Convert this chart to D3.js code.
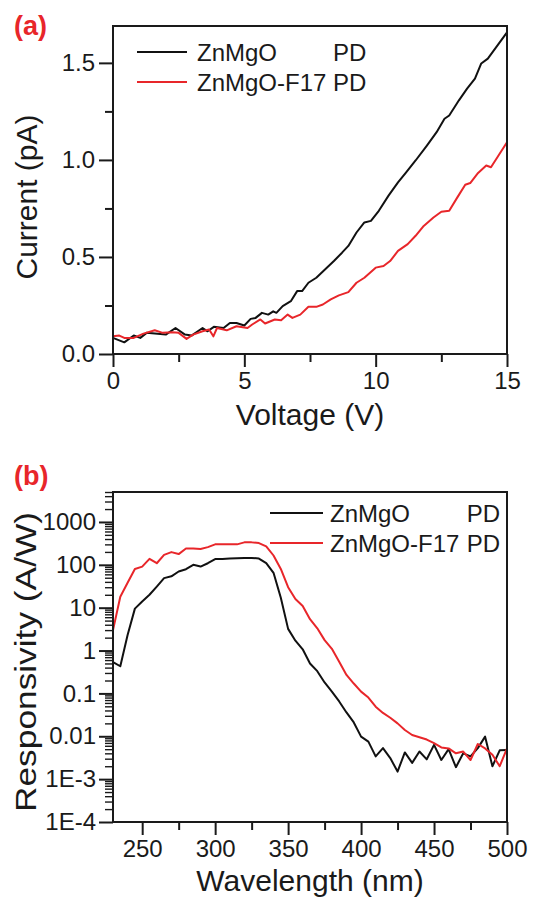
<!DOCTYPE html>
<html><head><meta charset="utf-8">
<script src="https://cdn.jsdelivr.net/npm/d3@7"></script>
<style>
body{margin:0;background:#fff}
svg{display:block}
text{font-family:"Liberation Sans",Arial,Helvetica,sans-serif;fill:#1a1a1a}
</style>
</head><body><svg id="c" width="542" height="899"></svg>
<script>
// ---------- Panel (a) data ----------
const voltageZnMgO = [0,0.43,0.79,1.04,1.28,2.01,2.38,2.74,2.99,3.41,3.6,3.84,4.21,4.45,4.7,5.0,5.24,5.43,5.67,5.91,6.1,6.22,6.46,6.77,7.01,7.2,7.44,7.74,8.11,8.41,8.72,8.96,9.27,9.57,9.82,10.12,10.49,10.85,11.16,11.52,11.95,12.32,12.62,12.8,13.17,13.48,13.78,14.02,14.27,15];
const currentZnMgO = [0.083,0.06,0.095,0.083,0.109,0.10,0.134,0.10,0.095,0.134,0.117,0.14,0.134,0.16,0.16,0.147,0.181,0.186,0.212,0.203,0.22,0.212,0.247,0.272,0.324,0.324,0.367,0.393,0.44,0.479,0.522,0.557,0.626,0.678,0.686,0.738,0.816,0.884,0.936,0.997,1.074,1.143,1.212,1.229,1.307,1.367,1.419,1.497,1.522,1.657];
const voltageF17 = [0,0.24,0.43,0.79,1.16,1.59,1.89,2.26,2.5,2.8,3.05,3.41,3.66,3.82,3.96,4.33,4.7,5.12,5.3,5.61,5.79,6.16,6.4,6.65,6.83,7.13,7.44,7.74,7.99,8.29,8.6,8.96,9.27,9.57,10.0,10.3,10.55,10.85,11.22,11.52,11.83,12.2,12.5,12.8,13.11,13.41,13.6,13.9,14.21,14.39,15];
const currentF17 = [0.091,0.095,0.083,0.083,0.105,0.122,0.109,0.112,0.109,0.078,0.10,0.117,0.126,0.091,0.134,0.122,0.143,0.134,0.152,0.178,0.157,0.178,0.174,0.203,0.186,0.203,0.243,0.243,0.255,0.281,0.302,0.319,0.367,0.393,0.445,0.453,0.479,0.531,0.566,0.609,0.66,0.703,0.733,0.738,0.807,0.872,0.881,0.933,0.971,0.962,1.091];
const voltageTicks = [0,5,10,15];
const voltageMinorTicks = [2.5,7.5,12.5];
const currentTicks = [0,0.5,1.0,1.5];
const currentMinorTicks = [0.25,0.75,1.25];

// ---------- Panel (b) data ----------
const wavelength = [230,235,240,245,250,255,260,265,270,275,280,285,290,295,300,305,310,315,320,325,330,335,340,345,350,355,360,365,370,375,380,385,390,395,400,405,410,415,420,425,430,435,440,445,450,455,460,465,470,475,480,485,490,495,500];
const respZnMgO = [0.54,0.43,2.3,9.5,14,20,31,49,54,70,79,100,91,109,136,136,140,142,144,145,140,110,65,17,3.2,1.7,1.07,0.5,0.33,0.18,0.11,0.065,0.036,0.021,0.0098,0.0075,0.0034,0.0053,0.0031,0.0015,0.0042,0.0024,0.0044,0.0029,0.0063,0.0028,0.0050,0.0019,0.0040,0.0034,0.0053,0.0098,0.0020,0.0047,0.0048];
const respF17 = [3.0,18,38,80,91,138,109,171,198,178,240,240,233,259,300,300,302,300,334,334,322,270,165,80,30,16,11,5.4,3.3,1.75,1.1,0.55,0.27,0.17,0.11,0.08,0.049,0.035,0.027,0.020,0.014,0.0107,0.0095,0.0084,0.0069,0.0055,0.0052,0.0040,0.0044,0.0028,0.0066,0.0052,0.0037,0.0020,0.0052];
const wavelengthTicks = [250,300,350,400,450,500];
const wavelengthMinorTicks = [275,325,375,425,475];
const respTicks = [1e-4,1e-3,0.01,0.1,1,10,100,1000];
const respTickLabels = ["1E-4","1E-3","0.01","0.1","1","10","100","1000"];

const seriesNames = ["ZnMgO", "ZnMgO-F17"];
const seriesColors = ["#111111", "#e8262a"];

const svg = d3.select("#c");
const INK = "#1a1a1a";

function styleAxis(g, fontSize) {
  g.select(".domain").remove();
  g.selectAll(".tick line").attr("stroke", INK).attr("stroke-width", 2);
  g.selectAll(".tick text").attr("font-size", fontSize).attr("fill", INK)
    .style("font-family", '"Liberation Sans",Arial,sans-serif');
}

function frame(L, R, T, B) {
  svg.append("rect").attr("x", L).attr("y", T).attr("width", R - L).attr("height", B - T)
    .attr("fill", "none").attr("stroke", INK).attr("stroke-width", 2);
}

function legend(x0, x1, xt, yRows, xPD, anchorPD) {
  seriesNames.forEach((n, i) => {
    const y = yRows[i];
    svg.append("line").attr("x1", x0).attr("x2", x1).attr("y1", y).attr("y2", y)
      .attr("stroke", seriesColors[i]).attr("stroke-width", 2);
    svg.append("text").attr("x", xt).attr("y", y).attr("dy", "0.36em")
      .attr("font-size", 24).text(n);
    svg.append("text").attr("x", xPD).attr("y", y).attr("dy", "0.36em")
      .attr("font-size", 24).attr("text-anchor", anchorPD).text("PD");
  });
}

// ================= Panel (a) =================
{
  const L = 113, R = 507, T = 26, B = 354;
  const x = d3.scaleLinear().domain([0, 15]).range([L, R]);
  const y = d3.scaleLinear().domain([0, 1.69]).range([B, T]);

  const gx = svg.append("g").attr("transform", `translate(0,${B})`)
    .call(d3.axisBottom(x).tickValues(voltageTicks).tickSize(13).tickPadding(5).tickFormat(d3.format("d")));
  styleAxis(gx, 24);
  const gxm = svg.append("g").attr("transform", `translate(0,${B})`)
    .call(d3.axisBottom(x).tickValues(voltageMinorTicks).tickSize(8).tickFormat(""));
  styleAxis(gxm, 24);

  const gy = svg.append("g").attr("transform", `translate(${L},0)`)
    .call(d3.axisLeft(y).tickValues(currentTicks).tickSize(14).tickPadding(4).tickFormat(d3.format(".1f")));
  styleAxis(gy, 24);
  const gym = svg.append("g").attr("transform", `translate(${L},0)`)
    .call(d3.axisLeft(y).tickValues(currentMinorTicks).tickSize(8).tickFormat(""));
  styleAxis(gym, 24);

  const line = d3.line().x(d => x(d[0])).y(d => y(d[1]));
  svg.append("path").datum(d3.zip(voltageZnMgO, currentZnMgO)).attr("d", line)
    .attr("fill", "none").attr("stroke", seriesColors[0]).attr("stroke-width", 2).attr("stroke-linejoin", "round");
  svg.append("path").datum(d3.zip(voltageF17, currentF17)).attr("d", line)
    .attr("fill", "none").attr("stroke", seriesColors[1]).attr("stroke-width", 2).attr("stroke-linejoin", "round");

  frame(L, R, T, B);
  legend(137, 187, 197, [52, 82], 333, "start");

  svg.append("text").attr("x", (L + R) / 2).attr("y", 425).attr("text-anchor", "middle")
    .attr("font-size", 30).text("Voltage (V)");
  svg.append("text").attr("transform", `translate(37,197) rotate(-90)`).attr("text-anchor", "middle")
    .attr("font-size", 30).text("Current (pA)");
  svg.append("text").attr("x", 14).attr("y", 35).attr("font-size", 27).attr("font-weight", "bold")
    .style("fill", "#e8262a").text("(a)");
}

// ================= Panel (b) =================
{
  const L = 113, R = 507, T = 492, B = 822;
  const x = d3.scaleLinear().domain([230, 500]).range([L, R]);
  const y = d3.scaleLog().domain([1e-4, 5000]).range([B, T]);

  const gx = svg.append("g").attr("transform", `translate(0,${B})`)
    .call(d3.axisBottom(x).tickValues(wavelengthTicks).tickSize(13).tickPadding(5).tickFormat(d3.format("d")));
  styleAxis(gx, 24);
  const gxm = svg.append("g").attr("transform", `translate(0,${B})`)
    .call(d3.axisBottom(x).tickValues(wavelengthMinorTicks).tickSize(8).tickFormat(""));
  styleAxis(gxm, 24);

  const gy = svg.append("g").attr("transform", `translate(${L},0)`)
    .call(d3.axisLeft(y).tickValues(respTicks).tickSize(14).tickPadding(3)
      .tickFormat((d, i) => respTickLabels[i]));
  styleAxis(gy, 24);
  const minor = y.ticks().filter(v => !respTicks.some(t => Math.abs(Math.log10(t) - Math.log10(v)) < 1e-6));
  const gym = svg.append("g").attr("transform", `translate(${L},0)`)
    .call(d3.axisLeft(y).tickValues(minor).tickSize(8).tickFormat(""));
  styleAxis(gym, 24);
  gym.selectAll(".tick line").attr("stroke-width", 1.4);

  const line = d3.line().x(d => x(d[0])).y(d => y(d[1]));
  svg.append("path").datum(d3.zip(wavelength, respZnMgO)).attr("d", line)
    .attr("fill", "none").attr("stroke", seriesColors[0]).attr("stroke-width", 2).attr("stroke-linejoin", "round");
  svg.append("path").datum(d3.zip(wavelength, respF17)).attr("d", line)
    .attr("fill", "none").attr("stroke", seriesColors[1]).attr("stroke-width", 2).attr("stroke-linejoin", "round");

  frame(L, R, T, B);
  legend(270, 323, 330, [513, 543], 500, "end");

  svg.append("text").attr("x", (L + R) / 2).attr("y", 891).attr("text-anchor", "middle")
    .attr("font-size", 30).text("Wavelength (nm)");
  svg.append("text").attr("transform", `translate(36,662) rotate(-90)`).attr("text-anchor", "middle")
    .attr("font-size", 30).attr("textLength", 300).attr("lengthAdjust", "spacingAndGlyphs")
    .text("Responsivity (A/W)");
  svg.append("text").attr("x", 14).attr("y", 485).attr("font-size", 27).attr("font-weight", "bold")
    .style("fill", "#e8262a").text("(b)");
}
</script>
</body></html>
